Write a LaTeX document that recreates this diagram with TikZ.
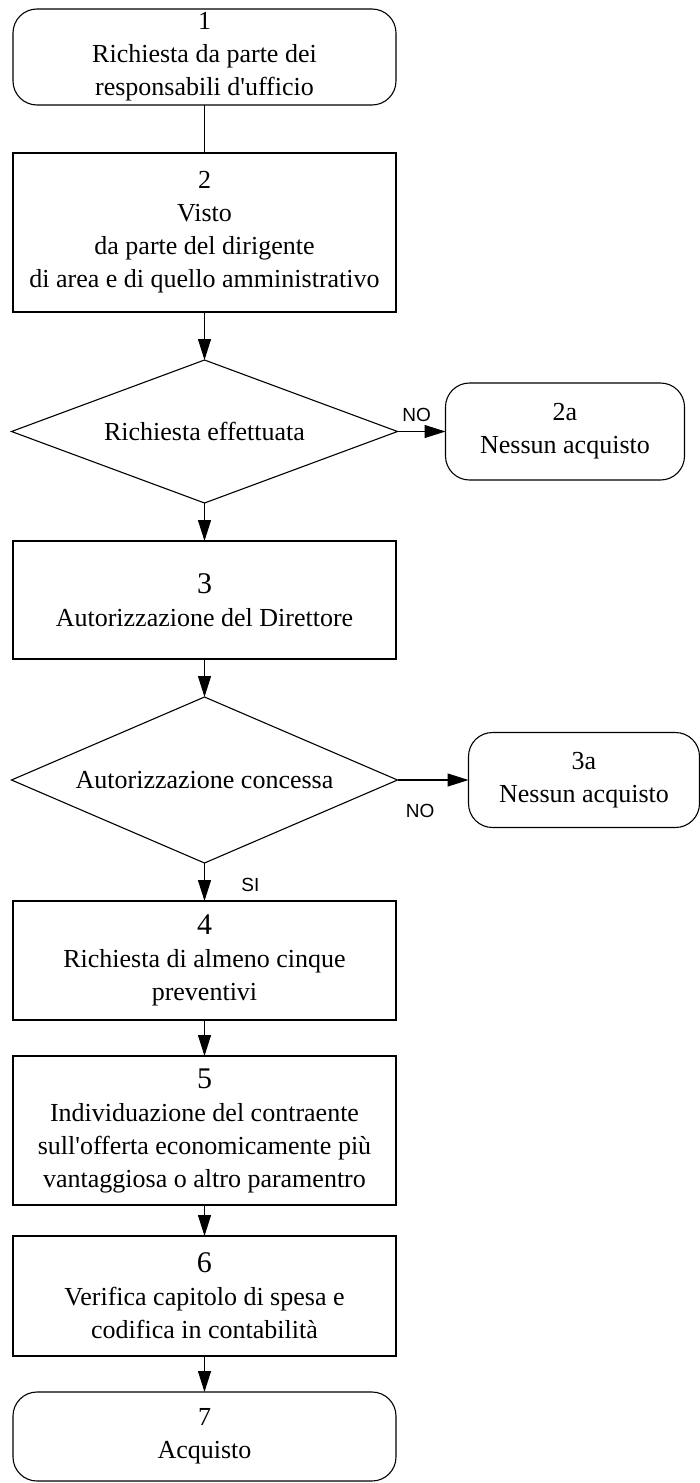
\documentclass[tikz,border=0pt]{standalone}
\usepackage{fontspec}
\setmainfont{Liberation Serif}[Ligatures=TeXOff]
\newfontfamily\labelfont{Liberation Sans}
\usetikzlibrary{arrows.meta,positioning,shapes.geometric}
\newcommand{\bignum}[1]{{\fontsize{30}{33}\selectfont #1}}

\begin{document}
\begin{tikzpicture}[
  >={Triangle[length=21pt,width=13pt]}, line width=1.1pt, font=\fontsize{26}{33}\selectfont,
  box/.style={rectangle, draw, align=center, minimum width=383pt, outer sep=0pt, inner sep=0pt},
  term/.style={box, rounded corners=24pt},
  decision/.style={diamond, draw, align=center, minimum width=386pt, outer sep=0pt, inner sep=0pt},
  lbl/.style={font=\labelfont\fontsize{19}{19}\selectfont}
]
\useasboundingbox (0,0) rectangle (699pt,-1483pt);

\node[term, minimum height=96pt] (req) at (204.5pt,-57pt) {1\\Richiesta da parte dei\\responsabili d'ufficio};
\node[box, minimum height=159pt, below=48pt of req] (visto) {2\\Visto\\da parte del dirigente\\di area e di quello amministrativo};
\node[decision, aspect=2.7, minimum height=143pt, below=48pt of visto] (done) {Richiesta effettuata};
\node[term, minimum width=239pt, minimum height=97pt, right=48pt of done] (noA) {2a\\Nessun acquisto};
\node[box, minimum height=118pt, below=38pt of done] (auth) {\bignum{3}\\Autorizzazione del Direttore};
\node[decision, aspect=2.33, minimum height=166pt, below=38pt of auth] (granted) {Autorizzazione concessa};
\node[term, minimum width=231pt, minimum height=95pt, right=71pt of granted] (noB) {3a\\Nessun acquisto};
\node[box, minimum height=119pt, below=38pt of granted] (quotes) {\bignum{4}\\Richiesta di almeno cinque\\preventivi};
\node[box, minimum height=149pt, below=36pt of quotes] (choice) {\bignum{5}\\Individuazione del contraente\\sull'offerta economicamente più\\vantaggiosa o altro paramentro};
\node[box, minimum height=120pt, below=31pt of choice] (check) {\bignum{6}\\Verifica capitolo di spesa e\\codifica in contabilità};
\node[term, minimum height=89pt, below=36pt of check] (buy) {7\\Acquisto};

\draw (req) -- (visto);
\draw[->] (visto) -- (done);
\draw[->] (done) -- node[lbl, above=6pt, pos=0.4] (noOne) {NO} (noA);
\draw[->] (done) -- (auth);
\draw[->] (auth) -- (granted);
\draw[->] (granted) -- node[lbl, below=20pt, pos=0.32] (noTwo) {NO} (noB);
\draw[->] (granted) -- node[lbl, right=33pt, pos=0.58] (yes) {SI} (quotes);
\draw[->] (quotes) -- (choice);
\draw[->] (choice) -- (check);
\draw[->] (check) -- (buy);
\end{tikzpicture}
\end{document}
